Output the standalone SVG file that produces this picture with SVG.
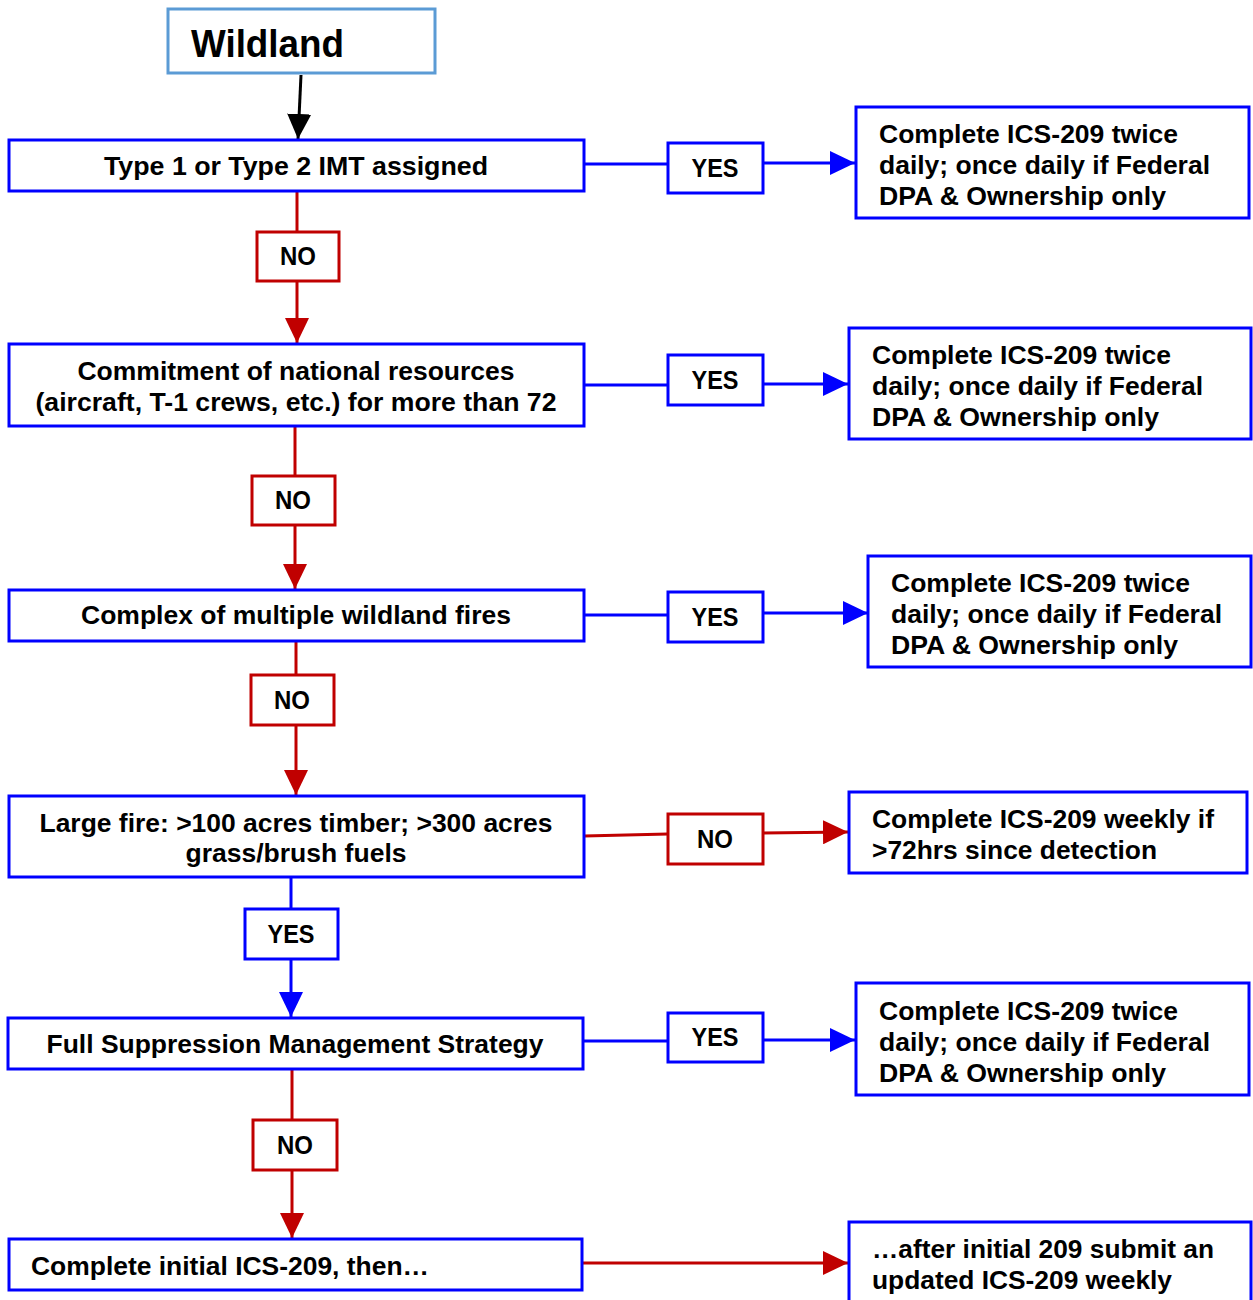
<svg xmlns="http://www.w3.org/2000/svg" width="1253" height="1300" viewBox="0 0 1253 1300">
<style>
.box{fill:#fff;stroke:#0000ff;stroke-width:3}
.rbox{fill:#fff;stroke:#c00000;stroke-width:3}
.wbox{fill:#fff;stroke:#5b9bd5;stroke-width:3}
.t{font-family:"Liberation Sans",Arial,sans-serif;font-weight:bold;font-size:25px;fill:#000}
.c{text-anchor:middle}
.b{fill:none;stroke:#0000ff;stroke-width:3}
.r{fill:none;stroke:#c00000;stroke-width:3}
.k{fill:none;stroke:#000;stroke-width:3}
</style>
<defs>
<marker id="ab" markerUnits="userSpaceOnUse" markerWidth="25" markerHeight="24" refX="25" refY="12" orient="auto"><path d="M0,0 L25,12 L0,24 z" fill="#0000ff"/></marker>
<marker id="ar" markerUnits="userSpaceOnUse" markerWidth="25" markerHeight="24" refX="25" refY="12" orient="auto"><path d="M0,0 L25,12 L0,24 z" fill="#c00000"/></marker>
<marker id="ak" markerUnits="userSpaceOnUse" markerWidth="25" markerHeight="24" refX="25" refY="12" orient="auto"><path d="M0,0 L25,12 L0,24 z" fill="#000"/></marker>
</defs>
<g id="connectors">
<path class="k" d="M301,75 L298,139" marker-end="url(#ak)"/>
<path class="b" d="M584,164 L668,164"/>
<path class="b" d="M763,163 L855,163" marker-end="url(#ab)"/>
<path class="r" d="M297,191 L297,232"/>
<path class="r" d="M297,281 L297,343" marker-end="url(#ar)"/>
<path class="b" d="M584,385 L668,385"/>
<path class="b" d="M763,384 L848,384" marker-end="url(#ab)"/>
<path class="r" d="M295,426 L295,476"/>
<path class="r" d="M295,525 L295,589" marker-end="url(#ar)"/>
<path class="b" d="M584,615 L668,615"/>
<path class="b" d="M763,613 L868,613" marker-end="url(#ab)"/>
<path class="r" d="M296,641 L296,675"/>
<path class="r" d="M296,725 L296,795" marker-end="url(#ar)"/>
<path class="r" d="M584,836 L668,834"/>
<path class="r" d="M763,833 L848,832" marker-end="url(#ar)"/>
<path class="b" d="M291,877 L291,909"/>
<path class="b" d="M291,959 L291,1017" marker-end="url(#ab)"/>
<path class="b" d="M583,1041 L668,1041"/>
<path class="b" d="M763,1040 L855,1040" marker-end="url(#ab)"/>
<path class="r" d="M292,1069 L292,1120"/>
<path class="r" d="M292,1170 L292,1238" marker-end="url(#ar)"/>
<path class="r" d="M582,1263 L848,1263" marker-end="url(#ar)"/>
</g>
<g id="wildland"><rect class="wbox" x="168" y="9" width="267" height="64"/><text class="t" x="191" y="57" style="font-size:38px" textLength="153" lengthAdjust="spacingAndGlyphs">Wildland</text></g>
<g id="q1"><rect class="box" x="9" y="140" width="575" height="51"/><text class="t c" x="296" y="175" textLength="384" lengthAdjust="spacingAndGlyphs">Type 1 or Type 2 IMT assigned</text></g>
<g id="yes1"><rect class="box" x="668" y="143" width="95" height="50"/><text class="t c" x="715" y="177" textLength="47" lengthAdjust="spacingAndGlyphs">YES</text></g>
<g id="r1"><rect class="box" x="856" y="107" width="393" height="111"/>
<text class="t" x="879" y="143" textLength="299" lengthAdjust="spacingAndGlyphs">Complete ICS-209 twice</text>
<text class="t" x="879" y="174" textLength="331" lengthAdjust="spacingAndGlyphs">daily; once daily if Federal</text>
<text class="t" x="879" y="205" textLength="287" lengthAdjust="spacingAndGlyphs">DPA &amp; Ownership only</text></g>
<g id="no1"><rect class="rbox" x="257" y="232" width="82" height="49"/><text class="t c" x="298" y="265" textLength="36" lengthAdjust="spacingAndGlyphs">NO</text></g>
<g id="q2"><rect class="box" x="9" y="344" width="575" height="82"/>
<text class="t c" x="296" y="380" textLength="437" lengthAdjust="spacingAndGlyphs">Commitment of national resources</text>
<text class="t c" x="296" y="411" textLength="521" lengthAdjust="spacingAndGlyphs">(aircraft, T-1 crews, etc.) for more than 72</text></g>
<g id="yes2"><rect class="box" x="668" y="355" width="95" height="50"/><text class="t c" x="715" y="389" textLength="47" lengthAdjust="spacingAndGlyphs">YES</text></g>
<g id="r2"><rect class="box" x="849" y="328" width="402" height="111"/>
<text class="t" x="872" y="364" textLength="299" lengthAdjust="spacingAndGlyphs">Complete ICS-209 twice</text>
<text class="t" x="872" y="395" textLength="331" lengthAdjust="spacingAndGlyphs">daily; once daily if Federal</text>
<text class="t" x="872" y="426" textLength="287" lengthAdjust="spacingAndGlyphs">DPA &amp; Ownership only</text></g>
<g id="no2"><rect class="rbox" x="252" y="476" width="83" height="49"/><text class="t c" x="293" y="509" textLength="36" lengthAdjust="spacingAndGlyphs">NO</text></g>
<g id="q3"><rect class="box" x="9" y="590" width="575" height="51"/><text class="t c" x="296" y="624" textLength="430" lengthAdjust="spacingAndGlyphs">Complex of multiple wildland fires</text></g>
<g id="yes3"><rect class="box" x="668" y="592" width="95" height="50"/><text class="t c" x="715" y="626" textLength="47" lengthAdjust="spacingAndGlyphs">YES</text></g>
<g id="r3"><rect class="box" x="868" y="556" width="383" height="111"/>
<text class="t" x="891" y="592" textLength="299" lengthAdjust="spacingAndGlyphs">Complete ICS-209 twice</text>
<text class="t" x="891" y="623" textLength="331" lengthAdjust="spacingAndGlyphs">daily; once daily if Federal</text>
<text class="t" x="891" y="654" textLength="287" lengthAdjust="spacingAndGlyphs">DPA &amp; Ownership only</text></g>
<g id="no3"><rect class="rbox" x="251" y="675" width="83" height="50"/><text class="t c" x="292" y="709" textLength="36" lengthAdjust="spacingAndGlyphs">NO</text></g>
<g id="q4"><rect class="box" x="9" y="796" width="575" height="81"/>
<text class="t c" x="296" y="832" textLength="513" lengthAdjust="spacingAndGlyphs">Large fire: &gt;100 acres timber; &gt;300 acres</text>
<text class="t c" x="296" y="862" textLength="221" lengthAdjust="spacingAndGlyphs">grass/brush fuels</text></g>
<g id="no4"><rect class="rbox" x="668" y="814" width="95" height="50"/><text class="t c" x="715" y="848" textLength="36" lengthAdjust="spacingAndGlyphs">NO</text></g>
<g id="r4"><rect class="box" x="849" y="792" width="398" height="81"/>
<text class="t" x="872" y="828" textLength="342" lengthAdjust="spacingAndGlyphs">Complete ICS-209 weekly if</text>
<text class="t" x="872" y="859" textLength="285" lengthAdjust="spacingAndGlyphs">&gt;72hrs since detection</text></g>
<g id="yes4"><rect class="box" x="245" y="909" width="93" height="50"/><text class="t c" x="291" y="943" textLength="47" lengthAdjust="spacingAndGlyphs">YES</text></g>
<g id="q5"><rect class="box" x="8" y="1018" width="575" height="51"/><text class="t c" x="295" y="1053" textLength="497" lengthAdjust="spacingAndGlyphs">Full Suppression Management Strategy</text></g>
<g id="yes5"><rect class="box" x="668" y="1013" width="95" height="49"/><text class="t c" x="715" y="1046" textLength="47" lengthAdjust="spacingAndGlyphs">YES</text></g>
<g id="r5"><rect class="box" x="856" y="983" width="393" height="112"/>
<text class="t" x="879" y="1020" textLength="299" lengthAdjust="spacingAndGlyphs">Complete ICS-209 twice</text>
<text class="t" x="879" y="1051" textLength="331" lengthAdjust="spacingAndGlyphs">daily; once daily if Federal</text>
<text class="t" x="879" y="1082" textLength="287" lengthAdjust="spacingAndGlyphs">DPA &amp; Ownership only</text></g>
<g id="no5"><rect class="rbox" x="253" y="1120" width="84" height="50"/><text class="t c" x="295" y="1154" textLength="36" lengthAdjust="spacingAndGlyphs">NO</text></g>
<g id="q6"><rect class="box" x="9" y="1239" width="573" height="51"/><text class="t" x="31" y="1275" textLength="398" lengthAdjust="spacingAndGlyphs">Complete initial ICS-209, then…</text></g>
<g id="r6"><rect class="box" x="849" y="1222" width="402" height="90"/>
<text class="t" x="872" y="1258" textLength="342" lengthAdjust="spacingAndGlyphs">…after initial 209 submit an</text>
<text class="t" x="872" y="1289" textLength="300" lengthAdjust="spacingAndGlyphs">updated ICS-209 weekly</text></g>
</svg>
